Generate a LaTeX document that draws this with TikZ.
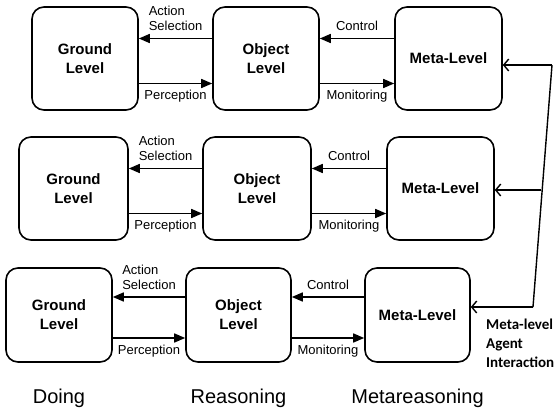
\documentclass[tikz,border=0pt]{standalone}
\usepackage{fontspec}
\setmainfont{Liberation Sans}
\newfontfamily\calfont{Carlito}
\usetikzlibrary{arrows.meta,positioning}
\tikzset{
  level/.style={draw, line width=1.6pt, rounded corners=12pt, align=center, inner sep=0pt,
    font=\bfseries\fontsize{15}{19}\selectfont},
  flow/.style={line width=1.6pt, -{Triangle[length=11pt,width=9pt]}},
  feed/.style={line width=1.4pt, -{Straight Barb[length=5pt,width=12pt]}},
  lab/.style={font=\fontsize{13}{15}\selectfont, align=left, inner sep=1pt},
  col/.style={font=\fontsize{20}{24}\selectfont, inner sep=0pt}
}
\begin{document}
\begin{tikzpicture}[x=1pt,y=-1pt]
\useasboundingbox (0,0) rectangle (558,410);
\node [level, minimum width=106pt, minimum height=103pt] (ground1) at (85,58.5) {Ground\\Level};
\node [level, minimum width=106pt, minimum height=103pt] (object1) at (266,58.5) {Object\\Level};
\node [level, minimum width=107pt, minimum height=103pt] (meta1) at (448.5,58.5) {Meta-Level};
\node [level, minimum width=109pt, minimum height=103pt] (ground2) at (73.5,188.5) {Ground\\Level};
\node [level, minimum width=108pt, minimum height=103pt] (object2) at (257,188.5) {Object\\Level};
\node [level, minimum width=107pt, minimum height=103pt] (meta2) at (440.5,188.5) {Meta-Level};
\node [level, minimum width=106pt, minimum height=94pt] (ground3) at (59,315) {Ground\\Level};
\node [level, minimum width=105pt, minimum height=94pt] (object3) at (238.5,315) {Object\\Level};
\node [level, minimum width=105pt, minimum height=94pt] (meta3) at (417.5,315) {Meta-Level};

\draw [flow] ([yshift=20pt]object1.west) -- node [lab, above=6pt] {Action\\Selection} ([yshift=20pt]ground1.east);
\draw [flow] ([yshift=-25pt]ground1.east) -- node [lab, below=5pt] {Perception} ([yshift=-25pt]object1.west);
\draw [flow] ([yshift=20pt]meta1.west) -- node [lab, above=6pt] {Control} ([yshift=20pt]object1.east);
\draw [flow] ([yshift=-25pt]object1.east) -- node [lab, below=5pt] {Monitoring} ([yshift=-25pt]meta1.west);

\draw [flow] ([yshift=20pt]object2.west) -- node [lab, above=6pt] {Action\\Selection} ([yshift=20pt]ground2.east);
\draw [flow] ([yshift=-25pt]ground2.east) -- node [lab, below=5pt] {Perception} ([yshift=-25pt]object2.west);
\draw [flow] ([yshift=20pt]meta2.west) -- node [lab, above=6pt] {Control} ([yshift=20pt]object2.east);
\draw [flow] ([yshift=-25pt]object2.east) -- node [lab, below=5pt] {Monitoring} ([yshift=-25pt]meta2.west);

\draw [flow] ([yshift=18pt]object3.west) -- node [lab, above=6pt] {Action\\Selection} ([yshift=18pt]ground3.east);
\draw [flow] ([yshift=-23pt]ground3.east) -- node [lab, below=5pt] {Perception} ([yshift=-23pt]object3.west);
\draw [flow] ([yshift=18pt]meta3.west) -- node [lab, above=6pt] {Control} ([yshift=18pt]object3.east);
\draw [flow] ([yshift=-23pt]object3.east) -- node [lab, below=5pt] {Monitoring} ([yshift=-23pt]meta3.west);

\coordinate (fbtop) at (552,65);
\coordinate (fbmid) at (541,190);
\coordinate (fbbot) at (533,307);
\draw [line width=1.4pt] (fbtop) -- (fbbot);
\draw [feed] (fbtop) -- (meta1.east |- fbtop);
\draw [feed] (fbmid) -- (meta2.east |- fbmid);
\draw [feed] (fbbot) -- (meta3.east |- fbbot);
\node [anchor=north west, align=left, inner sep=0pt, font=\calfont\bfseries\fontsize{15}{19}\selectfont] (interaction) at (486,319) {Meta-level\\Agent\\Interaction};

\node [col, below=26pt of ground3] (doing) {Doing};
\node [col, below=26pt of object3] (reasoning) {Reasoning};
\node [col, below=26pt of meta3] (metareasoning) {Metareasoning};
\end{tikzpicture}
\end{document}
